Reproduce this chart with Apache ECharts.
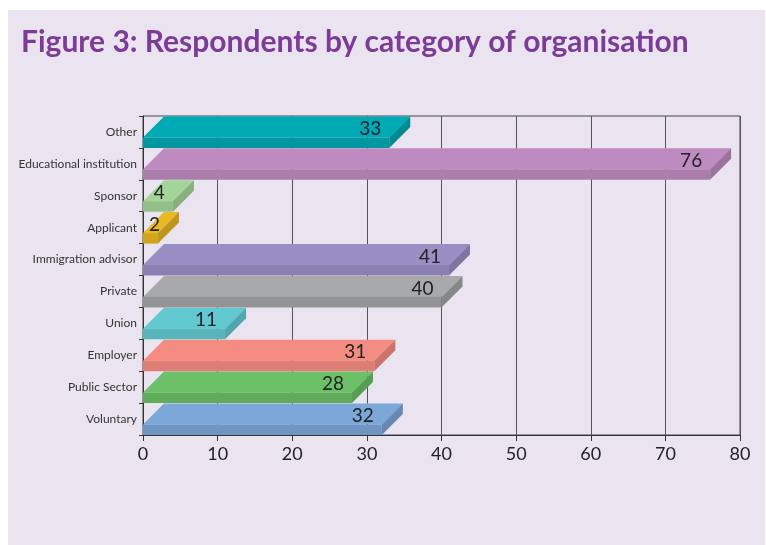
<!DOCTYPE html>
<html>
<head>
<meta charset="utf-8">
<script src="https://cdn.jsdelivr.net/npm/echarts@6/dist/echarts.min.js"></script>
<style>
  html, body { margin: 0; padding: 0; background: #fff; }
  #cht { width: 766px; height: 545px; }
</style>
</head>
<body>
<div id="cht"></div>
<script>
// categories bottom -> top (category axis runs upward)
const categories = ['Voluntary', 'Public Sector', 'Employer', 'Union', 'Private',
  'Immigration advisor', 'Applicant', 'Sponsor', 'Educational institution', 'Other'];
const values = [32, 28, 31, 11, 40, 41, 2, 4, 76, 33];
const xTicks = [0, 10, 20, 30, 40, 50, 60, 70, 80];

// [top face, front face, side face]
const colors = [
  ['#7ba7d9', '#6f95c3', '#6688b3'],
  ['#6cc067', '#5fac5b', '#579e53'],
  ['#f48c81', '#df7e74', '#cc736a'],
  ['#63c9d0', '#57b5bc', '#4fa6ac'],
  ['#a8a9ab', '#939496', '#87888a'],
  ['#9a8fc5', '#8a80b2', '#7e75a3'],
  ['#e9b923', '#d1a41c', '#bf961a'],
  ['#a4d598', '#93c088', '#87b07c'],
  ['#bd8bbf', '#a97eab', '#9b739d'],
  ['#00aab5', '#0097a1', '#008a93'],
];

const cht = echarts.init(document.getElementById('cht'));

const DEPTH = 21;
const FRONT = 10.5;

function renderBar(params, api) {
  const idx = api.value(0);
  const val = api.value(1);
  const p0 = api.coord([0, idx]);
  const p1 = api.coord([val, idx]);
  const band = api.size([0, 1])[1];
  const x0 = p0[0];
  const x1 = p1[0];
  const bottom = p0[1] + band / 2;
  const ft = bottom - FRONT;
  const c = colors[idx];
  return {
    type: 'group',
    children: [
      {
        type: 'polygon',
        shape: { points: [[x0, ft], [x1, ft], [x1 + DEPTH, ft - DEPTH], [x0 + DEPTH, ft - DEPTH]] },
        style: { fill: c[0] },
      },
      {
        type: 'rect',
        shape: { x: x0, y: ft, width: x1 - x0, height: FRONT },
        style: { fill: c[1] },
      },
      {
        type: 'polygon',
        shape: { points: [[x1, ft], [x1 + DEPTH, ft - DEPTH], [x1 + DEPTH, bottom - DEPTH], [x1, bottom]] },
        style: { fill: c[2] },
      },
      {
        type: 'text',
        style: {
          x: Math.max(x1 - 8, x0 + 17),
          y: bottom - 19,
          text: String(val),
          align: 'right',
          verticalAlign: 'middle',
          fill: '#222',
          font: '19px Lato, sans-serif',
        },
      },
    ],
  };
}

const option = {
  backgroundColor: '#fff',
  textStyle: { fontFamily: 'Lato, sans-serif' },
  graphic: [
    {
      type: 'rect',
      z: -10,
      shape: { x: 8, y: 10, width: 757, height: 540 },
      style: { fill: '#eae4f1' },
    },
  ],
  title: {
    text: 'Figure 3: Respondents by category of organisation',
    left: 16,
    top: 22,
    textStyle: { fontSize: 30, fontWeight: 'bold', color: '#7b3b97', fontFamily: 'Lato, sans-serif' },
  },
  grid: {
    left: 143,
    right: 26,
    top: 116,
    bottom: 110,
    show: true,
    borderColor: '#444',
    borderWidth: 1,
    backgroundColor: 'transparent',
  },
  xAxis: {
    type: 'value',
    min: 0,
    max: 80,
    interval: 10,
    axisLine: { show: true, lineStyle: { color: '#333' } },
    axisTick: { show: true, length: 6, lineStyle: { color: '#333' } },
    splitLine: { show: true, lineStyle: { color: '#555' } },
    axisLabel: {
      color: '#222',
      fontSize: 18,
      margin: 10,
      formatter: (v) => (xTicks.includes(v) ? String(v) : ''),
    },
  },
  yAxis: {
    type: 'category',
    data: categories,
    axisLine: { show: true, lineStyle: { color: '#333' } },
    axisTick: { show: true, length: 4, lineStyle: { color: '#333' } },
    axisLabel: { color: '#333', fontSize: 12, margin: 6 },
  },
  series: [
    {
      type: 'custom',
      renderItem: renderBar,
      encode: { x: 1, y: 0 },
      data: values.map((v, i) => [i, v]),
    },
  ],
};

cht.setOption(option);
</script>
</body>
</html>
